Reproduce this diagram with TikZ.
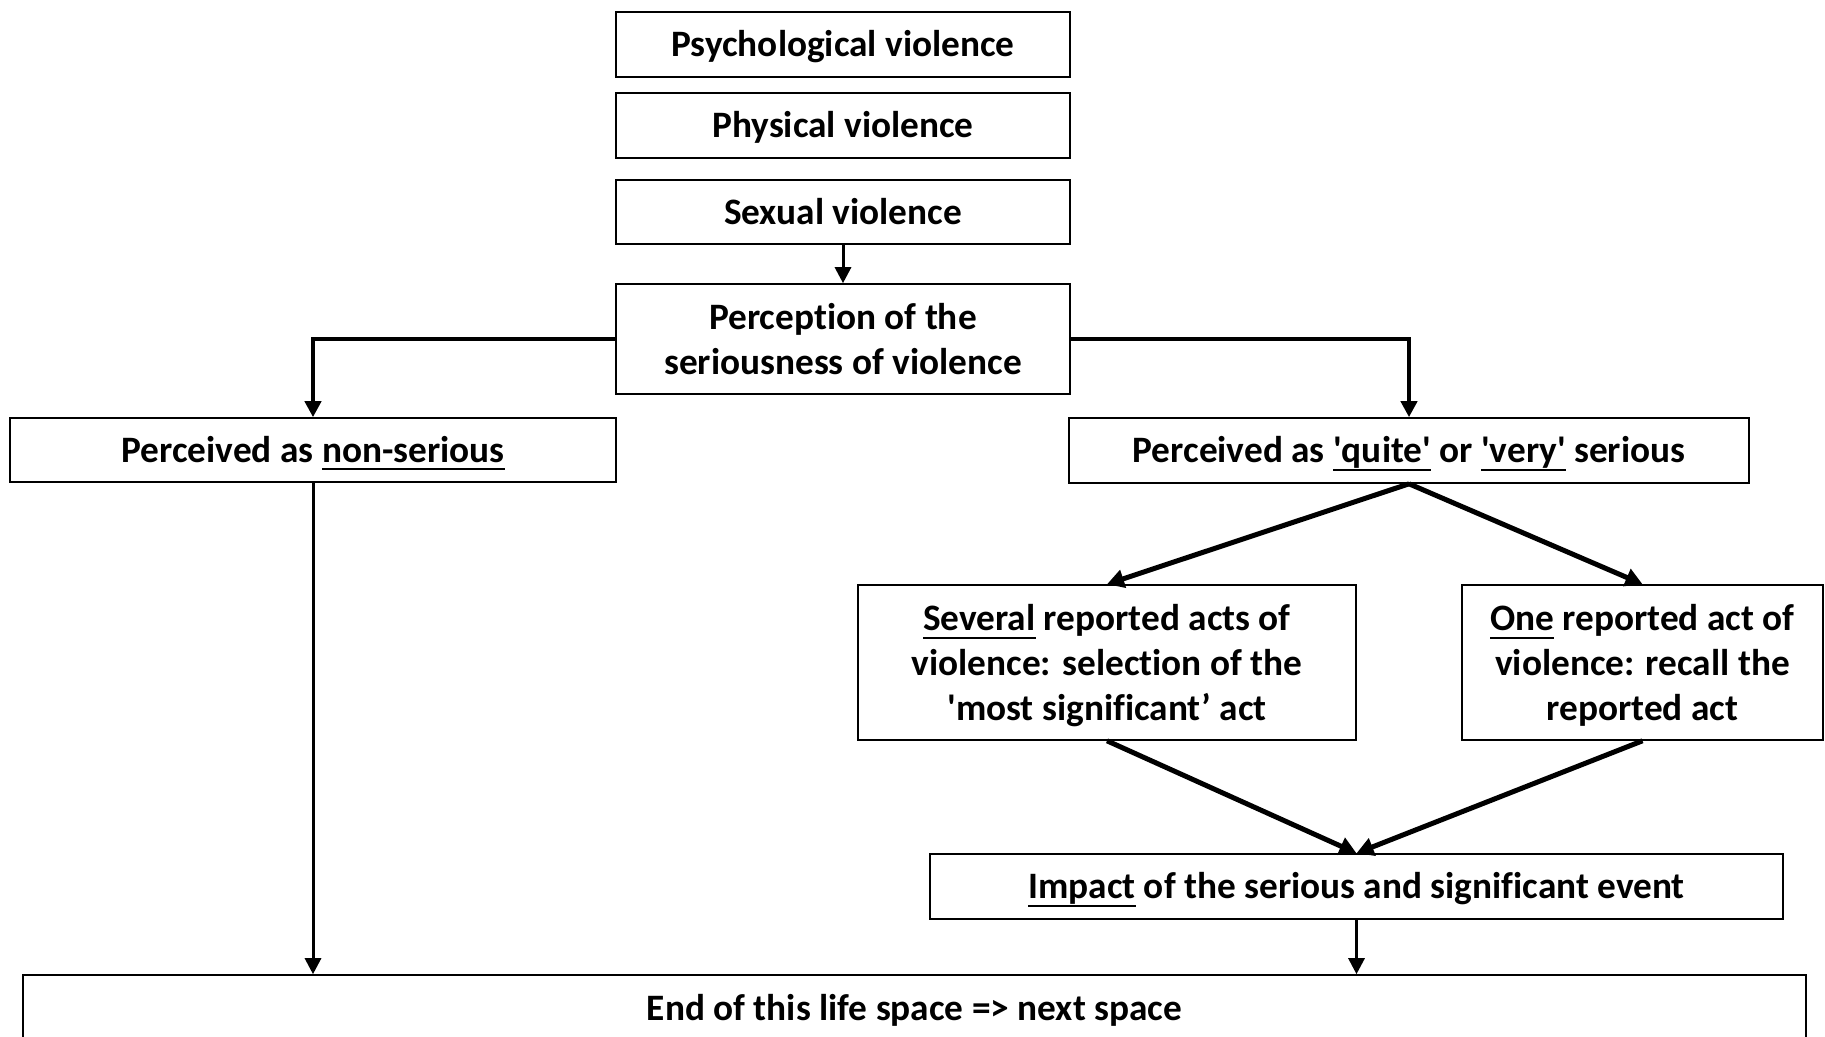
\documentclass[tikz,border=0pt]{standalone}
\usepackage{fontspec}
\setmainfont{Carlito}[Ligatures={TeX,NoCommon}]
\usetikzlibrary{arrows.meta}
\newlength{\ulw}
\newcommand{\undl}[1]{\settowidth{\ulw}{#1}\rlap{\rule[-8pt]{\ulw}{2pt}}#1}
\newcommand{\sq}{\textquotesingle}
\tikzset{
  box/.style={draw,line width=1.6pt,align=center,inner sep=0pt,font=\bfseries\fontsize{37.3}{45}\selectfont},
  one/.style={box,text height=31.7pt,text depth=7.7pt},
  ar/.style={-{Triangle[length=16pt,width=16pt]},line width=3pt},
  har/.style={-{Triangle[length=16pt,width=16pt]},line width=4pt},
  dar/.style={-{Triangle[length=17pt,width=18pt]},line width=5pt}
}
\begin{document}
\begin{tikzpicture}[x=1pt,y=-1pt]
\useasboundingbox (0,0) rectangle (1825,1036);
\node[one,minimum width=454,minimum height=65] (psy) at (843,44.5) {Psychological violence};
\node[one,minimum width=454,minimum height=65] (phy) at (843,125.5) {Physical violence};
\node[one,minimum width=454,minimum height=64] (sex) at (843,212) {Sexual violence};
\node[box,minimum width=454,minimum height=110] (perc) at (843,339) {Perception of the\\seriousness of violence};
\node[one,minimum width=606,minimum height=64] (nons) at (313,450) {Perceived as \undl{non-serious}};
\node[one,minimum width=680,minimum height=65] (ser) at (1409,450.5) {Perceived as \undl{\sq quite\sq} or \undl{\sq very\sq} serious};
\node[box,text depth=0pt,minimum width=498,minimum height=155] (sev) at (1107,662.5) {\undl{Several} reported acts of\\violence: selection of the\\\sq most significant’ act};
\node[box,text depth=0pt,minimum width=361,minimum height=155] (one) at (1642.5,662.5) {\undl{One} reported act of\\violence: recall the\\reported act};
\node[one,minimum width=853,minimum height=65] (imp) at (1356.5,886.5) {\undl{Impact} of the serious and significant event};
\node[one,minimum width=1783,minimum height=66] (endsp) at (914.5,1008) {End of this life space => next space};
\draw[ar] (sex) -- (perc);
\draw[har] (perc.west) -| (nons.north);
\draw[har] (perc.east) -| (ser.north);
\draw[dar] (ser.south) -- (sev.north);
\draw[dar] (ser.south) -- (one.north);
\draw[dar] (sev.south) -- (imp.north);
\draw[dar] (one.south) -- (imp.north);
\draw[ar] (nons.south) -- (nons.south |- endsp.north);
\draw[ar] (imp.south) -- (imp.south |- endsp.north);
\end{tikzpicture}
\end{document}
